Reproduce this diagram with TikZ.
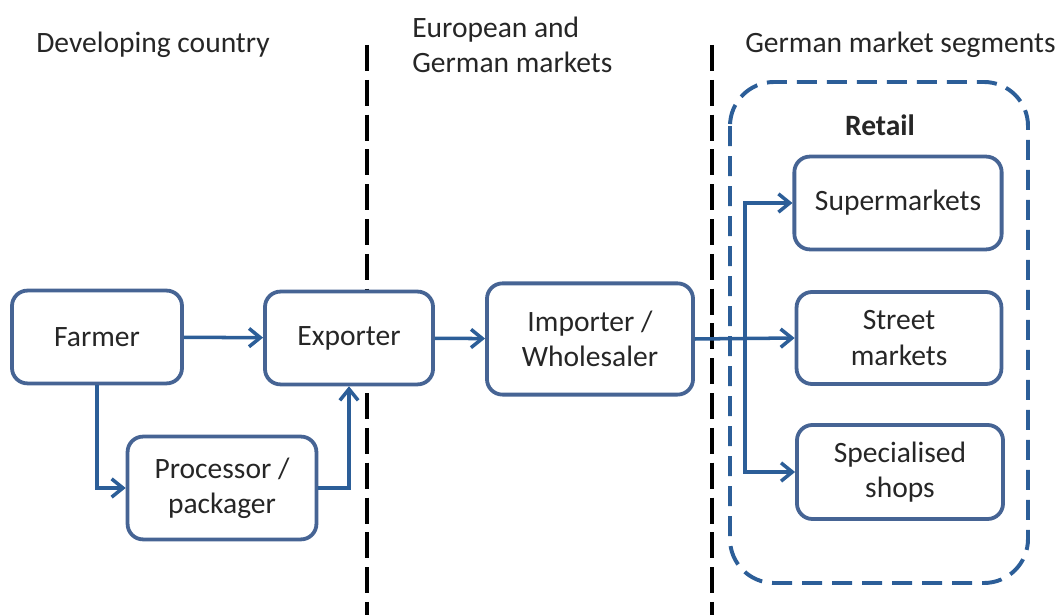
\documentclass[tikz,border=0pt]{standalone}
\usepackage{fontspec}
\setmainfont{Carlito}
\usetikzlibrary{arrows.meta}
\definecolor{boxline}{RGB}{70,100,148}
\definecolor{flow}{RGB}{44,94,152}
\definecolor{txt}{RGB}{38,38,38}

\tikzset{
  stage/.style={draw=boxline, line width=2.7pt, rounded corners=11pt,
    fill=white, align=center, text=txt, inner sep=2pt},
  flowarrow/.style={draw=flow, line width=2.5pt,
    -{Straight Barb[length=8pt,width=13pt,line width=2.5pt]}},
  border/.style={black, line width=2.6pt, dash pattern=on 0.65cm off 0.22cm},
  heading/.style={text=txt, align=left, inner sep=0pt}
}

\begin{document}
\begin{tikzpicture}[x=0.025cm, y=-0.025cm, font=\fontsize{21}{25}\selectfont]
  \useasboundingbox (0,0) rectangle (1061,615);

  % headings
  \node[heading, anchor=west] (hdev) at (36,45) {Developing country};
  \node[heading, anchor=west] (heu) at (412,45) {European and\\German markets};
  \node[heading, anchor=west] (hger) at (745,45) {German market segments};

  % borders between regions
  \draw[border] (367,45) -- (367,615);
  \draw[border] (712,45) -- (712,615);

  % retail segment
  \draw[draw=flow, line width=2.8pt, dash pattern=on 0.5cm off 0.25cm,
    rounded corners=1.1cm] (730,82) rectangle (1028,583);
  \node[text=txt, font=\fontsize{21}{25}\selectfont\bfseries] (retail) at (880,125) {Retail};

  % chain
  \node[stage, minimum width=4.25cm, minimum height=2.32cm] (farmer) at (97,337) {Farmer};
  \node[stage, minimum width=4.2cm, minimum height=2.32cm] (exporter) at (349,338) {Exporter};
  \node[stage, minimum width=4.72cm, minimum height=2.57cm] (processor) at (222,488) {Processor /\\packager};
  \node[stage, minimum width=5.15cm, minimum height=2.78cm] (importer) at (590,339) {Importer /\\Wholesaler};
  \node[stage, minimum width=5.18cm, minimum height=2.32cm] (supermarkets) at (898,203) {Supermarkets};
  \node[stage, minimum width=5.12cm, minimum height=2.3cm] (street) at (899,338) {Street\\markets};
  \node[stage, minimum width=5.15cm, minimum height=2.35cm] (shops) at (900,472) {Specialised\\shops};

  \coordinate (split) at (745,338);

  \draw[flowarrow] (farmer) -- (exporter);
  \draw[flowarrow] (farmer.south) |- (processor.west);
  \draw[flowarrow] (processor.east) -| (exporter.south);
  \draw[flowarrow] (exporter) -- (importer);
  \draw[flowarrow] (importer.east) -- (street.west);
  \draw[flowarrow] (split) |- (supermarkets.west);
  \draw[flowarrow] (split) |- (shops.west);
\end{tikzpicture}
\end{document}
